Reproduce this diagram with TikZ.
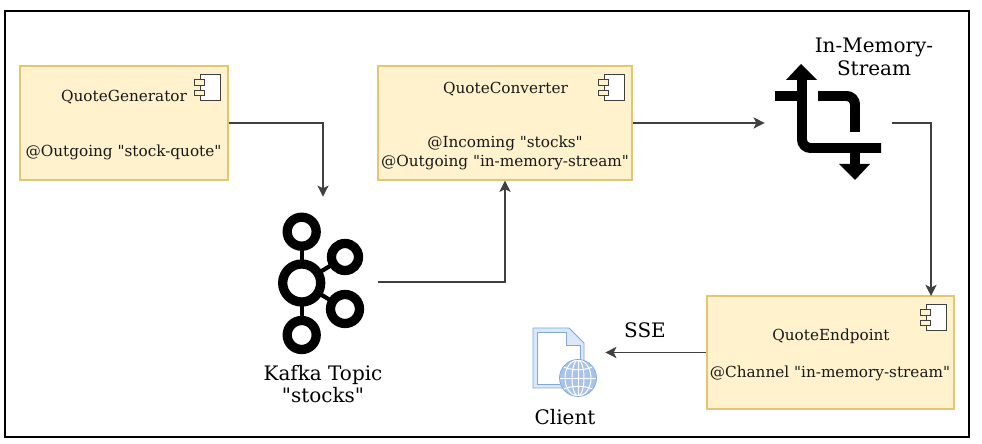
\documentclass[tikz,border=0pt]{standalone}
\usepackage{fontspec}
\setmainfont[Ligatures=TeXOff]{DejaVu Serif}
\usetikzlibrary{calc,arrows.meta}
\definecolor{boxfill}{HTML}{FFF2CC}
\definecolor{boxline}{HTML}{E3C66F}
\definecolor{docfill}{HTML}{DAE8FC}
\definecolor{docline}{HTML}{7EA6E0}
\definecolor{globefill}{HTML}{A9C4EB}
\newcommand{\boxfont}{\fontsize{10.85}{13}\selectfont}
\newcommand{\labelfont}{\fontsize{14.2}{16.2}\selectfont}
\tikzset{
  >={Stealth[length=2.8mm,width=2.8mm,inset=0.7mm]},
  compbox/.style={draw=boxline,fill=boxfill,line width=1pt,inner sep=0pt},
  boxtext/.style={inner sep=0pt,text=black!90,font=\boxfont},
  bigtext/.style={inner sep=0pt,align=center,font=\labelfont},
  iconframe/.style={inner sep=0pt},
  wire/.style={->,black!75,line width=0.75pt},
  ring/.style={draw=black,line width=6.6pt}
}

\begin{document}
\begin{tikzpicture}[x=0.025cm,y=-0.025cm]
\useasboundingbox (0,0) rectangle (982,444);

\draw [line width=1.6pt] (5,11) rectangle (969,437);

% component boxes
\node [compbox,minimum width=5.2cm,minimum height=2.85cm] (generator) at (124,123) {};
\node [compbox,minimum width=6.35cm,minimum height=2.85cm] (converter) at (505,123) {};
\node [compbox,minimum width=6.175cm,minimum height=2.825cm] (endpoint) at (830.5,352.5) {};

\foreach \b in {generator,converter,endpoint} {
\begin{scope}[shift={(\b.north east)}]
\draw [fill=white,draw=black!75,line width=1pt] (-28,9) rectangle (-8,35);
\draw [fill=boxfill,draw=black!75,line width=1pt] (-34,14) rectangle (-24,20);
\draw [fill=boxfill,draw=black!75,line width=1pt] (-34,25) rectangle (-24,30);
\end{scope}
}

\node [boxtext] (generatorname) at (124,97) {QuoteGenerator};
\node [boxtext] (generatorchan) at (123.5,152.5) {@Outgoing "stock-quote"};
\node [boxtext] (convertername) at (505.5,89) {QuoteConverter};
\node [boxtext] (converterin) at (505,143) {@Incoming "stocks"};
\node [boxtext] (converterout) at (505,162.5) {@Outgoing "in-memory-stream"};
\node [boxtext] (endpointname) at (831,336) {QuoteEndpoint};
\node [boxtext] (endpointchan) at (830,373.5) {@Channel "in-memory-stream"};

% kafka icon
\node [iconframe,minimum width=2.75cm,minimum height=4.25cm] (topic) at (323,282) {};
\begin{scope}[shift={(topic.center)}]
\draw [black,line width=3pt] (-21.3,-50) -- (-21.3,53);
\draw [black,line width=3pt] (22,-25) -- (-21.3,1) -- (22,27);
\foreach \cx/\cy/\r in {-21.3/-50.3/14.5,-21.3/1/19,22/-25/13.5,22/27/14.5,-21.3/53/14.5}
  \draw [ring,fill=white] (\cx,\cy) circle (\r);
\end{scope}
\node [bigtext] (topicname) at (323,384) {Kafka Topic\\"stocks"};

% in-memory-stream icon
\node [iconframe,minimum width=3.175cm,minimum height=3cm] (stream) at (828.5,123) {};
\draw [black,line width=7.1pt,rounded corners=6pt] (802,78) -- (802,148) -- (881,148);
\draw [black,line width=7.1pt] (775,96) -- (802,96);
\draw [black,line width=7.1pt,rounded corners=6pt] (818,96) -- (855,96) -- (855,132);
\draw [black,line width=7.1pt] (855,150) -- (855,166);
\fill [black] (801,64) -- (817,80) -- (786,80) -- cycle;
\fill [black] (855,180) -- (839,164) -- (870,164) -- cycle;
\node [bigtext] (streamname) at (874,56.5) {In-Memory-\\Stream};

% client icon
\node [iconframe,minimum width=1.8cm,minimum height=1.8cm] (client) at (569,352.5) {};
\draw [docline,fill=docfill,line width=0.7pt] (533,328) -- (569,328) -- (584,343) -- (584,372) -- (572,388) -- (533,388) -- cycle;
\fill [white] (537,332) -- (566,332) -- (566,345) -- (580,345) -- (580,372) -- (570,384) -- (537,384) -- cycle;
\draw [docline,line width=0.5pt] (537,332) -- (566,332) -- (566,345) -- (580,345) -- (580,362);
\draw [docline,line width=0.5pt] (537,332) -- (537,384) -- (560,384);
\draw [docline,fill=globefill,line width=0.5pt] (578,378) circle (18.5);
\begin{scope}
\clip (578,378) circle (18);
\foreach \rx in {6,13} \draw [white,line width=0.7pt] (578,378) ellipse ({\rx} and 18);
\draw [white,line width=0.7pt] (578,359) -- (578,397);
\draw [white,line width=0.7pt] (559,378) -- (597,378);
\draw [white,line width=0.7pt] (562,366) .. controls (570,371) and (586,371) .. (594,366);
\draw [white,line width=0.7pt] (562,390) .. controls (570,385) and (586,385) .. (594,390);
\end{scope}
\node [bigtext] (clientname) at (565,417) {Client};
\node [bigtext] (sse) at (645,330) {SSE};

% connectors
\coordinate (entry) at (931,296);
\draw [wire] (generator.east) -| (topic.north);
\draw [wire] (topic.east) -| (converter.south);
\draw [wire] (converter.east) -- (stream.west);
\draw [wire] (stream.east) -| (entry);
\draw [wire] (endpoint.west) -- (client.east);
\end{tikzpicture}
\end{document}
